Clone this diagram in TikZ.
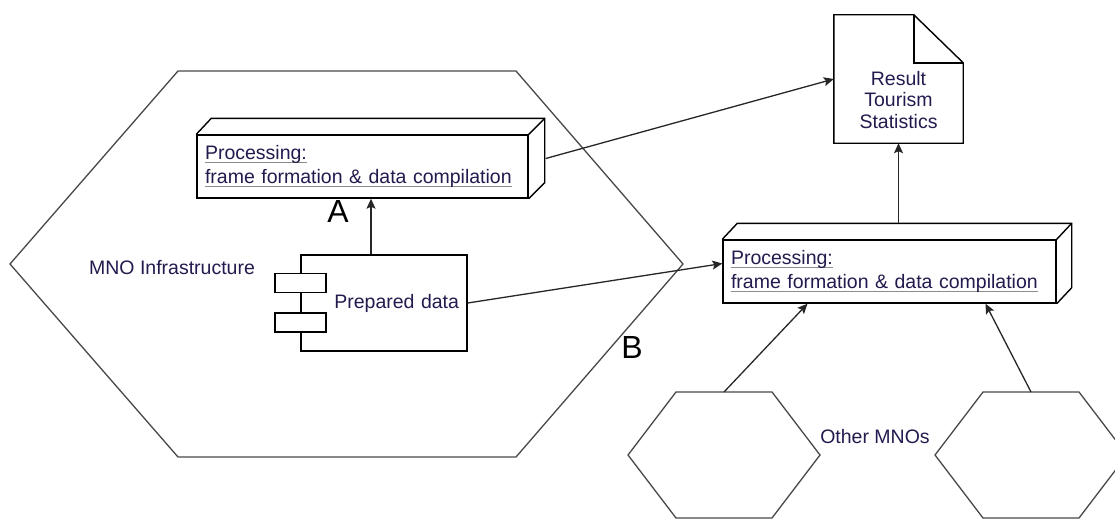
\documentclass[tikz,border=0pt]{standalone}
\usepackage{fontspec}
\setmainfont{Liberation Sans}
\usetikzlibrary{arrows.meta,positioning}
\definecolor{inkdark}{HTML}{221B4E}
\definecolor{hexgray}{HTML}{484848}
\definecolor{ulgray}{HTML}{8C8C8C}
\newlength{\ulwd}
\newcommand{\linkul}[1]{\leavevmode\settowidth{\ulwd}{#1}\rlap{\textcolor{ulgray}{\rule[-0.2em]{\ulwd}{1.3pt}}}#1}

\begin{document}
\begin{tikzpicture}[x=1pt, y=-1pt,
    every node/.style={font=\fontsize{19.5}{24}\selectfont, text=inkdark},
    procbox/.style={draw=black, line width=1.4pt, fill=white, minimum height=63pt,
        inner xsep=8pt, inner ysep=0pt, align=left},
    compbox/.style={draw=black, line width=1.4pt, fill=white, minimum width=166pt,
        minimum height=96pt, text width=150pt, inner xsep=8pt, align=right},
    portbox/.style={draw=black, line width=1.4pt, fill=white, minimum width=51pt,
        minimum height=19pt, inner sep=0pt},
    hexline/.style={draw=hexgray, line width=1.3pt},
    boxline/.style={draw=black, line width=1.4pt},
    flow/.style={draw=black!85, line width=1.3pt, -{Stealth[length=10pt,width=9pt,inset=2pt]}},
    bigletter/.style={font=\fontsize{32}{36}\selectfont, text=black}]
    \useasboundingbox (0,0) rectangle (1115,519);

    % MNO infrastructure (big hexagon)
    \draw[hexline] (10,264) -- (178,71) -- (516,71) -- (683,264) -- (516,457) -- (178,457) -- cycle;
    \node (mnolbl) at (172,268) {MNO Infrastructure};

    % Other MNOs (small hexagons)
    \foreach \cx/\nm in {724/hexL, 1031/hexR} {
        \draw[hexline] (\cx-96,455) -- (\cx-48,392) -- (\cx+48,392) -- (\cx+96,455)
            -- (\cx+48,518) -- (\cx-48,518) -- cycle;
        \coordinate (\nm) at (\cx,392);
    }
    \node (otherlbl) at (875,437) {Other MNOs};

    % Processing A
    \node[procbox, text width=315pt] (procA) at (362.5,166.5)
        {\linkul{Processing:}\\\linkul{frame formation \& data compilation}};
    \draw[boxline] (procA.north west) -- ([shift={(15pt,16pt)}]procA.north west)
        -- ([shift={(16pt,16pt)}]procA.north east) -- ([shift={(16pt,16pt)}]procA.south east)
        -- (procA.south east);
    \draw[boxline] (procA.north east) -- ([shift={(16pt,16pt)}]procA.north east);

    % Processing B
    \node[procbox, text width=317pt] (procB) at (889.5,271.5)
        {\linkul{Processing:}\\\linkul{frame formation \& data compilation}};
    \draw[boxline] (procB.north west) -- ([shift={(15pt,16pt)}]procB.north west)
        -- ([shift={(15pt,16pt)}]procB.north east) -- ([shift={(15pt,16pt)}]procB.south east)
        -- (procB.south east);
    \draw[boxline] (procB.north east) -- ([shift={(15pt,16pt)}]procB.north east);

    % Prepared data component
    \node[compbox] (prep) at (384,303) {Prepared data};
    \node[portbox] (port1) at ([yshift=-28.5pt]prep.north west) {};
    \node[portbox] (port2) at ([yshift=-68pt]prep.north west) {};

    % Result document
    \node[minimum width=129pt, minimum height=128pt, inner sep=0pt] (result) at (898.5,79) {};
    \draw[boxline] (result.north west) -- ++(80,0) coordinate (fold)
        -- ([yshift=-48pt]result.north east) -- (result.south east)
        -- (result.south west) -- cycle;
    \draw[boxline] (fold) |- ([yshift=-48pt]result.north east);
    \node[align=center, font=\fontsize{19.5}{21.5}\selectfont] (resultlbl)
        at ([yshift=-21pt]result.center) {Result\\Tourism\\Statistics};

    % A / B markers
    \node[bigletter] (lblA) at (338,211) {A};
    \node[bigletter] (lblB) at (632,347) {B};

    % Flows
    \coordinate (procAside) at ([shift={(17pt,8pt)}]procA.east);
    \coordinate (procBtop) at ([shift={(9pt,16pt)}]procB.north);
    \draw[flow] ([xshift=-13pt]prep.north) -- ([xshift=-13pt]prep.north |- procA.south);
    \draw[flow] (prep.east) -- ([yshift=8pt]procB.west);
    \draw[flow] (procAside) -- (result.west);
    \draw[flow] (procBtop) -- (result.south);
    \draw[flow] (hexL) -- ([xshift=-82pt]procB.south);
    \draw[flow] (hexR) -- ([xshift=96pt]procB.south);
\end{tikzpicture}
\end{document}
